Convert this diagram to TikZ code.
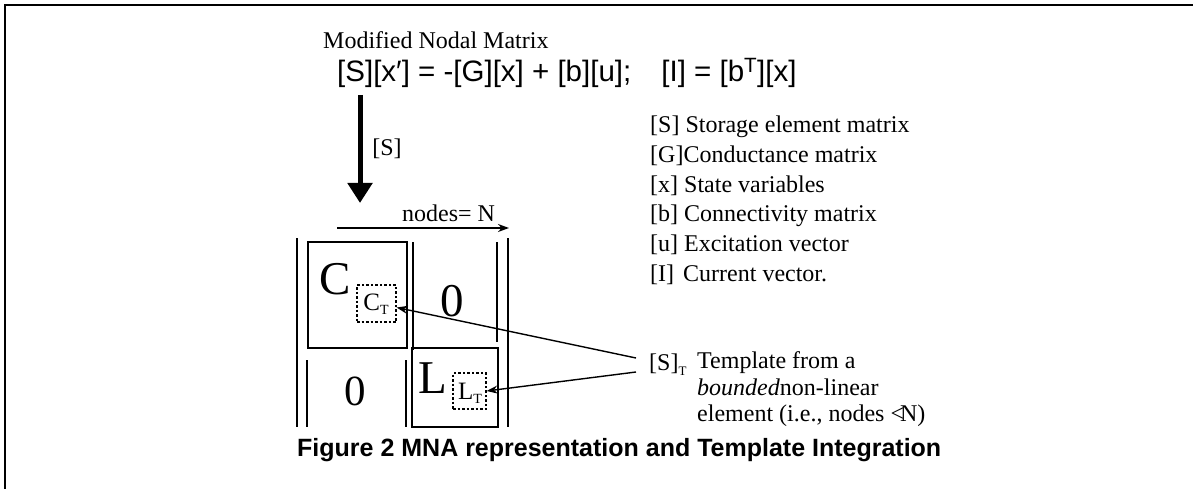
\documentclass[tikz,border=0pt]{standalone}
\usepackage{fontspec}
\setmainfont{Liberation Serif}
\newfontfamily\arialfont{Liberation Sans}
\usetikzlibrary{arrows.meta,calc}
\begin{document}
\begin{tikzpicture}[x=1pt,y=-1pt,
  txt/.style={font=\fontsize{24}{28}\selectfont, inner sep=0pt},
  eqn/.style={font=\arialfont\fontsize{29.5}{32}\selectfont, inner sep=0pt},
  big/.style={font=\fontsize{47}{50}\selectfont, inner sep=0pt},
  small/.style={font=\fontsize{25}{27}\selectfont, inner sep=0pt},
  captiontext/.style={font=\arialfont\bfseries\fontsize{25}{28}\selectfont, inner sep=0pt},
  bar/.style={line width=2pt},
  thinbar/.style={line width=1.2pt},
  blockbox/.style={draw, line width=1.3pt, inner sep=0pt},
  tbox/.style={draw, dashed, dash pattern=on 2.5pt off 2pt, line width=1.1pt, inner sep=0pt},
  thinarrow/.style={line width=1.4pt, -{Stealth[length=11pt,width=8pt]}}
]
\useasboundingbox (0,0) rectangle (1193,489);
\fill[white] (0,0) rectangle (1193,489);
% frame
\draw[line width=2pt] (5,489) -- (5,5) -- (1193,5);

% header
\node[txt, anchor=base west] (title) at (323,49) {Modified Nodal Matrix};
\node[eqn, anchor=base west] (eq) at (337,82) {[S][x′] = -[G][x] + [b][u];\hspace{30pt}[I] = [b\textsuperscript{T}][x]};

% thick arrow
\coordinate (atop) at (360,95);
\coordinate (atip) at (360,203);
\draw[line width=5pt, -{Triangle[width=24pt,length=20pt]}] (atop) -- (atip);
\node[txt] (slab) at (387,149) {[S]};

% nodes = N
\node[txt, anchor=base west] (nodes) at (402,222) {nodes= N};
\coordinate (na) at (337,228);
\coordinate (nb) at (509,228);
\draw[thinarrow] (na) -- (nb);

% legend
\node[txt, anchor=base west] (leg1) at (650,133) {[S] Storage element matrix};
\node[txt, anchor=base west] (leg2) at (650,162.6) {[G]Conductance matrix};
\node[txt, anchor=base west] (leg3) at (650,192.2) {[x] State variables};
\node[txt, anchor=base west] (leg4) at (650,221.8) {[b] Connectivity matrix};
\node[txt, anchor=base west] (leg5) at (650,251.4) {[u] Excitation vector};
\node[txt, anchor=base west] (leg6) at (650,281) {[I]\hspace{9pt}Current vector.};

% matrix bars
\draw[bar] (297,238) -- (297,427);
\draw[bar] (508,238) -- (508,427);
\draw[bar] (497,242) -- (497,342);
\draw[thinbar] (413,242) -- (413,350);
\draw[thinbar] (307,360) -- (307,427);
\draw[thinbar] (406,360) -- (406,427);

% blocks
\node[blockbox, minimum width=99pt, minimum height=106pt] (cbox) at (357.5,295) {};
\node[blockbox, minimum width=86pt, minimum height=79pt] (lbox) at (455,387.5) {};
\node[big] (ctxt) at (335,279) {C};
\node[big] (zero1) at (452,301) {0};
\node[big, font=\fontsize{43}{46}\selectfont] (zero2) at (355,391) {0};
\node[big] (ltxt) at (433,378) {L};
\node[tbox, minimum width=39pt, minimum height=37pt] (ctbox) at (376.5,303.5) {};
\node[tbox, minimum width=33pt, minimum height=36pt] (ltbox) at (469.5,391) {};
\node[small] (cttxt) at (376,304) {C\raisebox{-4pt}{\fontsize{14}{14}\selectfont T}};
\node[small] (lttxt) at (470,393) {L\raisebox{-4pt}{\fontsize{14}{14}\selectfont T}};

% template
\node[txt, anchor=base west] (st) at (649,370) {[S]\raisebox{-5pt}{\fontsize{13}{13}\selectfont T}};
\node[txt, anchor=base west] (tpl1) at (697,368) {Template from a};
\node[txt, anchor=base west] (tpl2) at (697,395) {\textit{bounded}non-linear};
\node[txt, anchor=base west] (tpl3) at (697,421) {element (i.e., nodes <\kern-4pt N)};
\coordinate (s1) at (636,358);
\coordinate (s2) at (636,372);
\draw[thinarrow] (s1) -- ($(ctbox.east)+(0,4)$);
\draw[thinarrow] (s2) -- (ltbox.east);

% caption
\node[captiontext, anchor=base west] (caption) at (297,456) {Figure 2 MNA representation and Template Integration};
\end{tikzpicture}
\end{document}
